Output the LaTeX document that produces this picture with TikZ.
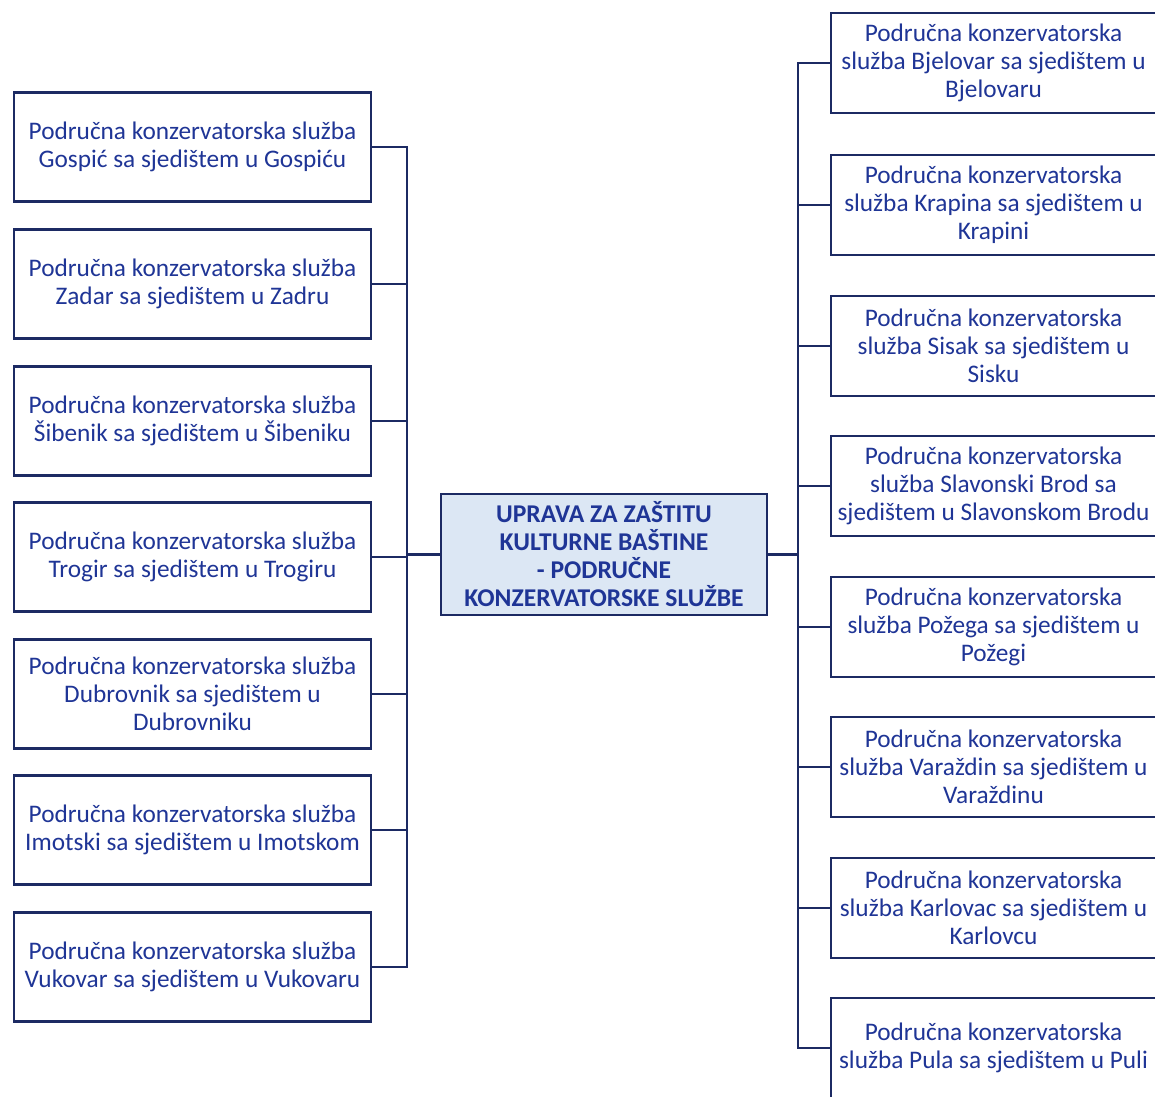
\documentclass[tikz,border=0pt]{standalone}
\usepackage{fontspec}
\setmainfont{Carlito}
\definecolor{txtblue}{HTML}{1F3596}
\definecolor{edgeblue}{HTML}{1C2A63}
\definecolor{centerfill}{HTML}{DCE7F4}
\begin{document}
\begin{tikzpicture}[x=1pt,y=-1pt,
  unit/.style={draw=edgeblue,line width=2.3pt,fill=white,align=center,text=txtblue,
    font=\fontsize{25.3}{28}\selectfont,inner sep=0pt},
  lunit/.style={unit,minimum width=357pt,minimum height=109pt},
  runit/.style={unit,minimum width=325pt,minimum height=100pt},
  mainunit/.style={draw=edgeblue,line width=2.3pt,fill=centerfill,align=center,text=txtblue,
    font=\fontsize{25.6}{28}\selectfont\bfseries,minimum width=326pt,minimum height=121pt,inner sep=0pt},
  wire/.style={draw=edgeblue,line width=2.3pt,line cap=rect}]
\useasboundingbox (0,0) rectangle (1155,1096);
\clip (0,0) rectangle (1155,1096);
\fill[white] (0,0) rectangle (1155,1096);
\coordinate (lb) at (407,0);
\coordinate (rb) at (798,0);
% centre
\node[mainunit] (c) at (604,554.5) {UPRAVA ZA ZAŠTITU\\KULTURNE BAŠTINE\\- PODRUČNE\\KONZERVATORSKE SLUŽBE};
% left
\node[lunit] (l1) at (192.5,147) {Područna konzervatorska služba\\Gospić sa sjedištem u Gospiću};
\node[lunit] (l2) at (192.5,284) {Područna konzervatorska služba\\Zadar sa sjedištem u Zadru};
\node[lunit] (l3) at (192.5,421) {Područna konzervatorska služba\\Šibenik sa sjedištem u Šibeniku};
\node[lunit] (l4) at (192.5,557) {Područna konzervatorska služba\\Trogir sa sjedištem u Trogiru};
\node[lunit] (l5) at (192.5,694) {Područna konzervatorska služba\\Dubrovnik sa sjedištem u\\Dubrovniku};
\node[lunit] (l6) at (192.5,830) {Područna konzervatorska služba\\Imotski sa sjedištem u Imotskom};
\node[lunit] (l7) at (192.5,967) {Područna konzervatorska služba\\Vukovar sa sjedištem u Vukovaru};
% right
\node[runit] (r1) at (993.5,63) {Područna konzervatorska\\služba Bjelovar sa sjedištem u\\Bjelovaru};
\node[runit] (r2) at (993.5,205) {Područna konzervatorska\\služba Krapina sa sjedištem u\\Krapini};
\node[runit] (r3) at (993.5,346) {Područna konzervatorska\\služba Sisak sa sjedištem u\\Sisku};
\node[runit] (r4) at (993.5,486) {Područna konzervatorska\\služba Slavonski Brod sa\\sjedištem u Slavonskom Brodu};
\node[runit] (r5) at (993.5,627) {Područna konzervatorska\\služba Požega sa sjedištem u\\Požegi};
\node[runit] (r6) at (993.5,767) {Područna konzervatorska\\služba Varaždin sa sjedištem u\\Varaždinu};
\node[runit] (r7) at (993.5,908) {Područna konzervatorska\\služba Karlovac sa sjedištem u\\Karlovcu};
\node[runit] (r8) at (993.5,1048) {Područna konzervatorska\\služba Pula sa sjedištem u Puli};
% connectors
\foreach \n in {l1,l2,l3,l4,l5,l6,l7} \draw[wire] (\n.east) -- (\n.east -| lb);
\draw[wire] (l1.east -| lb) -- (l7.east -| lb);
\draw[wire] (c.west) -- (c.west -| lb);
\foreach \n in {r1,r2,r3,r4,r5,r6,r7,r8} \draw[wire] (\n.west) -- (\n.west -| rb);
\draw[wire] (r1.west -| rb) -- (r8.west -| rb);
\draw[wire] (c.east) -- (c.east -| rb);
\end{tikzpicture}
\end{document}
